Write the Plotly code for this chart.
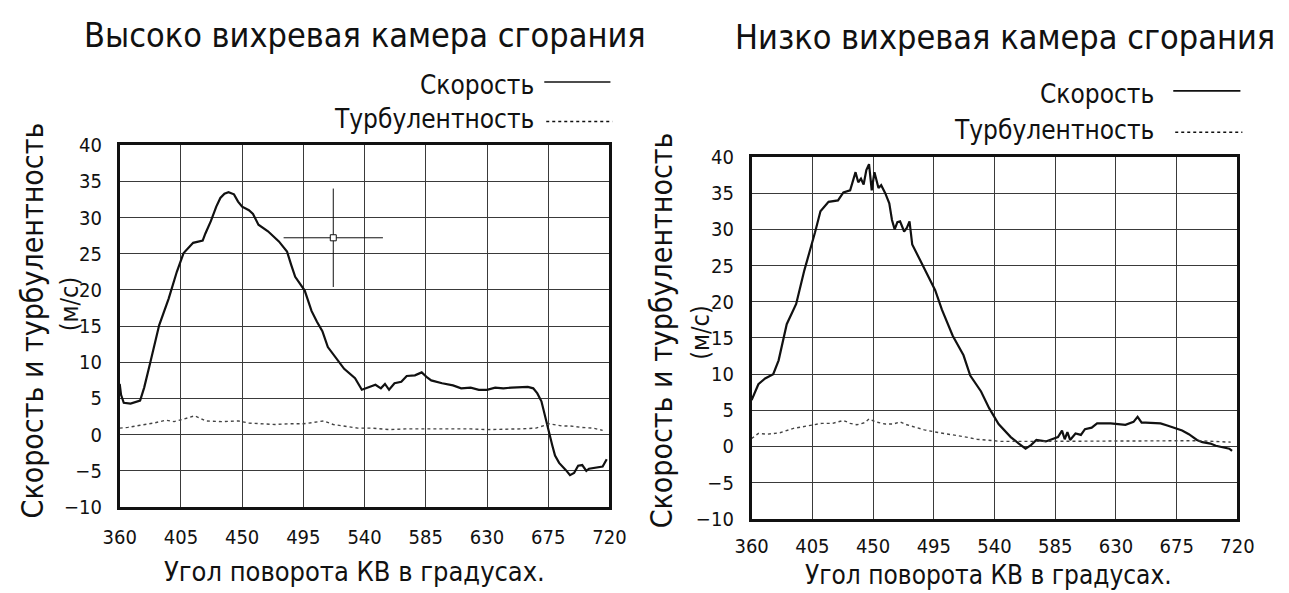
import plotly.graph_objects as go

# ---------------- data ----------------
x_ticks = [360, 405, 450, 495, 540, 585, 630, 675, 720]
y_ticks = [-10, -5, 0, 5, 10, 15, 20, 25, 30, 35, 40]

hi_angle = [360, 361, 363, 368, 375, 378, 382, 389, 396, 402, 407, 414, 421, 423, 427,
            431, 434, 437, 440, 444, 447, 450, 455, 458, 462, 469, 477, 483, 486, 489,
            496, 501, 505, 509, 513, 520, 525, 533, 538, 541, 545, 548, 552, 555, 558,
            562, 567, 571, 577, 582, 586, 589, 597, 605, 611, 618, 624, 630, 636, 642,
            648, 654, 660, 664, 667, 670, 672, 675, 678, 680, 683, 688, 691, 694, 697,
            700, 703, 705, 710, 715, 718]
hi_speed = [7.0, 5.5, 4.4, 4.3, 4.7, 6.5, 9.6, 15.1, 18.8, 22.5, 25.1, 26.5, 26.8, 27.8, 29.5,
            31.5, 32.7, 33.3, 33.5, 33.2, 32.2, 31.5, 31.0, 30.5, 29.0, 28.1, 26.7, 25.3, 23.5, 21.8,
            19.9, 17.1, 15.6, 14.3, 12.1, 10.4, 9.1, 7.8, 6.2, 6.4, 6.7, 6.9, 6.4, 7.0, 6.2,
            7.1, 7.3, 8.1, 8.2, 8.6, 7.9, 7.5, 7.1, 6.8, 6.4, 6.5, 6.2, 6.2, 6.5, 6.4,
            6.5, 6.6, 6.6, 6.4, 5.7, 4.6, 3.0, 0.8, -1.5, -2.9, -3.9, -4.9, -5.6, -5.3, -4.3,
            -4.2, -5.0, -4.7, -4.6, -4.4, -3.4]

hi_turb_angle = [360, 366, 375, 385, 394, 400, 406, 412, 415, 420, 423, 435, 447, 455, 464,
                 474, 484, 495, 503, 510, 517, 525, 535, 545, 558, 570, 582, 593, 605, 618,
                 630, 642, 655, 666, 676, 685, 691, 700, 708, 715]
hi_turb = [0.9, 1.0, 1.3, 1.6, 2.0, 1.8, 2.1, 2.4, 2.6, 2.2, 1.9, 1.8, 1.9, 1.6, 1.5,
           1.4, 1.5, 1.5, 1.7, 1.9, 1.4, 1.2, 0.9, 0.9, 0.7, 0.8, 0.8, 0.9, 0.8, 0.8,
           0.7, 0.7, 0.8, 0.9, 1.5, 1.2, 1.2, 1.0, 0.9, 0.6]

lo_angle = [360, 365, 370, 376, 380, 386, 393, 399, 407, 411, 417, 424, 428, 433, 437,
            439, 441, 443, 445, 447, 449, 451, 454, 456, 459, 462, 464, 466, 468, 470,
            473, 475, 477, 479, 485, 490, 496, 501, 509, 517, 522, 530, 536, 543, 552,
            558, 563, 567, 571, 578, 582, 587, 590, 592, 594, 596, 600, 604, 607, 612,
            616, 626, 637, 643, 646, 649, 652, 658, 663, 668, 673, 679, 684, 690, 694,
            700, 704, 710, 714, 716]
lo_speed = [6.4, 8.6, 9.4, 10.0, 11.9, 16.9, 19.7, 24.3, 29.6, 32.5, 33.8, 34.0, 35.1, 35.4, 37.9,
            36.5, 37.0, 36.2, 38.2, 39.0, 35.4, 37.9, 35.7, 36.1, 35.0, 33.6, 31.3, 30.0, 31.0, 31.1,
            29.7, 30.2, 31.1, 27.9, 25.7, 23.8, 21.6, 18.9, 15.3, 12.6, 9.8, 7.6, 5.3, 3.1, 1.3,
            0.4, -0.3, 0.2, 0.9, 0.7, 1.0, 1.3, 2.2, 1.0, 2.0, 0.9, 1.8, 1.6, 2.4, 2.6,
            3.2, 3.2, 3.0, 3.4, 4.1, 3.3, 3.3, 3.2, 3.2, 2.9, 2.6, 2.2, 1.7, 0.9, 0.6,
            0.4, 0.1, -0.1, -0.3, -0.6]

lo_turb_angle = [360, 365, 372, 381, 391, 402, 412, 420, 428, 433, 438, 444, 447, 452, 459,
                 465, 470, 475, 480, 488, 496, 503, 511, 519, 527, 536, 545, 560, 571, 590,
                 610, 637, 663, 690, 715]
lo_turb = [1.1, 1.8, 1.7, 1.9, 2.5, 2.9, 3.2, 3.2, 3.6, 3.2, 3.0, 3.3, 3.8, 3.4, 3.1,
           3.1, 3.4, 3.0, 2.7, 2.3, 2.0, 1.8, 1.6, 1.3, 1.0, 0.8, 0.7, 0.7, 0.7, 0.8,
           0.8, 0.8, 0.8, 0.8, 0.6]

# cursor cross drawn on the left panel (centre, half-lengths)
cross_x, cross_y = 517, 27.2
cross_half_x, cross_half_y = 36.5, 6.8

titles = ["Высоко вихревая камера сгорания", "Низко вихревая камера сгорания"]
legend_names = ["Скорость", "Турбулентность"]
y_title = "Скорость и турбулентность"
y_unit = "(м/с)"
x_title = "Угол поворота КВ в градусах."

# ---------------- figure ----------------
W, H = 1289, 593
FONT = "DejaVu Sans Condensed, DejaVu Sans, sans-serif"
INK = "#111111"

# the page shows the paper inset (body margin): map screen pixels -> paper fractions
OFF_X, OFF_Y, PW, PH = 9, 8, 1271, 577


def px(x):
    return (x - OFF_X) / PW


def py(y):
    return 1 - (y - OFF_Y) / PH


fig = go.Figure()
fig.add_trace(go.Scatter(x=hi_angle, y=hi_speed, mode="lines", xaxis="x", yaxis="y",
                         line=dict(color=INK, width=2.2), showlegend=False))
fig.add_trace(go.Scatter(x=hi_turb_angle, y=hi_turb, mode="lines", xaxis="x", yaxis="y",
                         line=dict(color="#444444", width=1.4, dash="dot"), showlegend=False))
fig.add_trace(go.Scatter(x=lo_angle, y=lo_speed, mode="lines", xaxis="x2", yaxis="y2",
                         line=dict(color=INK, width=2.2), showlegend=False))
fig.add_trace(go.Scatter(x=lo_turb_angle, y=lo_turb, mode="lines", xaxis="x2", yaxis="y2",
                         line=dict(color="#444444", width=1.4, dash="dot"), showlegend=False))

axis_common = dict(showline=True, linecolor=INK, linewidth=2.6, mirror=True,
                   showgrid=True, gridcolor="#3a3a3a", gridwidth=1.3, zeroline=False,
                   ticks="", tickfont=dict(family=FONT, size=20, color=INK))

panels = [
    dict(x0=113, x1=609, y0=143, y1=510),
    dict(x0=753, x1=1245, y0=155, y1=522),
]

fig.update_layout(
    width=W, height=H, margin=dict(l=0, r=0, t=0, b=0),
    paper_bgcolor="white", plot_bgcolor="white",
    xaxis=dict(domain=[px(panels[0]["x0"]), px(panels[0]["x1"])], range=[360, 720],
               tickvals=x_ticks, anchor="y", ticklabelstandoff=10, **axis_common),
    yaxis=dict(domain=[py(panels[0]["y1"]), py(panels[0]["y0"])], range=[-10, 40],
               tickvals=y_ticks, anchor="x", ticklabelstandoff=11, **axis_common),
    xaxis2=dict(domain=[px(panels[1]["x0"]), px(panels[1]["x1"])], range=[360, 720],
                tickvals=x_ticks, anchor="y2", ticklabelstandoff=7, **axis_common),
    yaxis2=dict(domain=[py(panels[1]["y1"]), py(panels[1]["y0"])], range=[-10, 40],
                tickvals=y_ticks, anchor="x2", ticklabelstandoff=11, **axis_common),
)

annotations = []
for txt, xc, yc, size in [(titles[0], 361, 31, 34), (titles[1], 1010, 33, 34),
                          (x_title, 351, 575, 27), (x_title, 993, 579, 26)]:
    annotations.append(dict(text=txt, x=px(xc), y=py(yc), xref="paper", yref="paper",
                            showarrow=False, xanchor="center", yanchor="middle",
                            font=dict(family=FONT, size=size, color=INK)))

# y titles (rotated)
for xc, yc, txt, size in [(25, 321, y_title, 30), (63, 304, y_unit, 25),
                          (662, 331, y_title, 30), (701, 333, y_unit, 25)]:
    annotations.append(dict(text=txt, x=px(xc), y=py(yc), xref="paper", yref="paper",
                            showarrow=False, textangle=-90, xanchor="center", yanchor="middle",
                            font=dict(family=FONT, size=size, color=INK)))

# legend texts (text left of the sample line)
legend_pos = [
    dict(tx=535, ys=82, yt=117, lx0=543, lx1=610),
    dict(tx=1163, ys=91, yt=128, lx0=1180, lx1=1248),
]
shapes = []
for lp in legend_pos:
    annotations.append(dict(text=legend_names[0], x=px(lp["tx"]), y=py(lp["ys"]), xref="paper",
                            yref="paper", showarrow=False, xanchor="right", yanchor="middle",
                            font=dict(family=FONT, size=26, color=INK)))
    annotations.append(dict(text=legend_names[1], x=px(lp["tx"]), y=py(lp["yt"]), xref="paper",
                            yref="paper", showarrow=False, xanchor="right", yanchor="middle",
                            font=dict(family=FONT, size=26, color=INK)))
    shapes.append(dict(type="line", xref="paper", yref="paper",
                       x0=px(lp["lx0"]), x1=px(lp["lx1"]), y0=py(lp["ys"] - 3), y1=py(lp["ys"] - 3),
                       line=dict(color=INK, width=1.6)))
    shapes.append(dict(type="line", xref="paper", yref="paper",
                       x0=px(lp["lx0"] + 2), x1=px(lp["lx1"] + 2), y0=py(lp["yt"] + 2), y1=py(lp["yt"] + 2),
                       line=dict(color=INK, width=1.6, dash="dot")))

# cursor cross on the left panel
shapes.append(dict(type="line", xref="x", yref="y", x0=cross_x, x1=cross_x,
                   y0=cross_y - cross_half_y, y1=cross_y + cross_half_y,
                   line=dict(color=INK, width=1)))
shapes.append(dict(type="line", xref="x", yref="y", x0=cross_x - cross_half_x, x1=cross_x + cross_half_x,
                   y0=cross_y, y1=cross_y, line=dict(color=INK, width=1)))
shapes.append(dict(type="rect", xref="x", yref="y", x0=cross_x - 2.2, x1=cross_x + 2.2,
                   y0=cross_y - 0.42, y1=cross_y + 0.42, line=dict(color=INK, width=1),
                   fillcolor="white"))

fig.update_layout(annotations=annotations, shapes=shapes)
fig.write_html("out.html")
